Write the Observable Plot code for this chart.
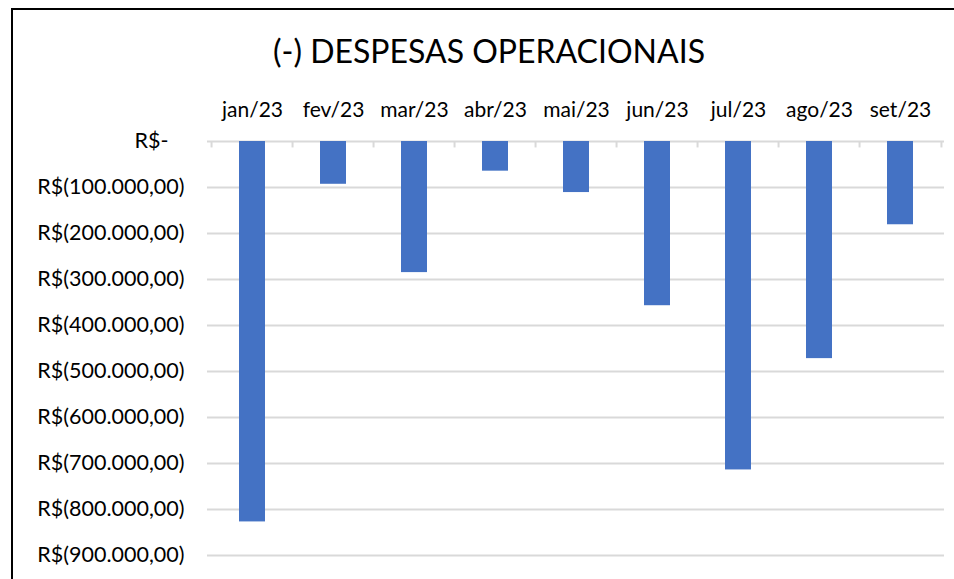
<!DOCTYPE html>
<html>
<head>
<meta charset="utf-8">
<script src="https://cdn.jsdelivr.net/npm/d3@7"></script>
<script src="https://cdn.jsdelivr.net/npm/@observablehq/plot@0.6"></script>
<style>
  html, body { margin: 0; padding: 0; background: #fff; }
  #wrap { position: relative; width: 954px; height: 579px; overflow: hidden; font-family: Lato, "Open Sans", sans-serif; background: #fff; }
  #frame { position: absolute; left: 11px; top: 8px; width: 960px; height: 600px; border-top: 2.5px solid #000; border-left: 2.5px solid #000; }
  #title { position: absolute; left: 10px; width: 958px; top: 35px; text-align: center; font-size: 32px; color: #000; line-height: 1; }
  #chart { position: absolute; left: 0; top: 80px; }
</style>
</head>
<body>
<div id="wrap">
  <div id="frame"></div>
  <div id="title">(-) DESPESAS OPERACIONAIS</div>
  <div id="chart"></div>
</div>
<script>
const months = ["jan/23", "fev/23", "mar/23", "abr/23", "mai/23", "jun/23", "jul/23", "ago/23", "set/23"];
const despesas = [-827000, -93000, -285000, -64500, -111000, -357000, -714000, -472000, -181000];
const yTicks = [0, -100000, -200000, -300000, -400000, -500000, -600000, -700000, -800000, -900000];

const data = months.map((m, i) => ({month: m, value: despesas[i]}));

const W = 954, H = 499, mL = 207, mR = 10, mT = 61, mB = 24;
const step = (W - mL - mR) / months.length;

const fmt = v => {
  if (v === 0) return "R$-";
  const s = d3.format(",.2f")(Math.abs(v)).replace(/,/g, "X").replace(/\./g, ",").replace(/X/g, ".");
  return v < 0 ? `R$(${s})` : `R$${s}`;
};

const chart = Plot.plot({
  width: W,
  height: H,
  marginLeft: mL,
  marginRight: mR,
  marginTop: mT,
  marginBottom: mB,
  style: {fontFamily: "Lato, 'Open Sans', sans-serif", fontSize: "21px", color: "#000", background: "transparent"},
  x: {domain: months, paddingInner: 0.68, paddingOuter: 0.34, axis: null, label: null},
  y: {domain: [-900000, 0], axis: null, label: null},
  marks: [
    Plot.ruleY(yTicks, {stroke: "#d9d9d9", strokeWidth: 2}),
    Plot.ruleX(months, {x: d => d, dx: -step / 2, y1: 0, y2: -14000, stroke: "#d9d9d9", strokeWidth: 2}),
    Plot.ruleX(months.slice(-1), {x: d => d, dx: step / 2, y1: 0, y2: -14000, stroke: "#d9d9d9", strokeWidth: 2}),
    Plot.barY(data, {x: "month", y: "value", fill: "#4472C4"}),
    Plot.axisX({anchor: "top", tickSize: 0, tickPadding: 25, fontSize: 21, fill: "#000", label: null}),
    Plot.axisY(yTicks.filter(d => d !== 0), {anchor: "left", tickSize: 0, tickPadding: 23, tickFormat: fmt, fontSize: 21.5, fill: "#000", label: null}),
    Plot.axisY([0], {anchor: "left", tickSize: 0, tickPadding: 39, tickFormat: fmt, fontSize: 21.5, fill: "#000", label: null})
  ]
});
document.getElementById("chart").appendChild(chart);
</script>
</body>
</html>
